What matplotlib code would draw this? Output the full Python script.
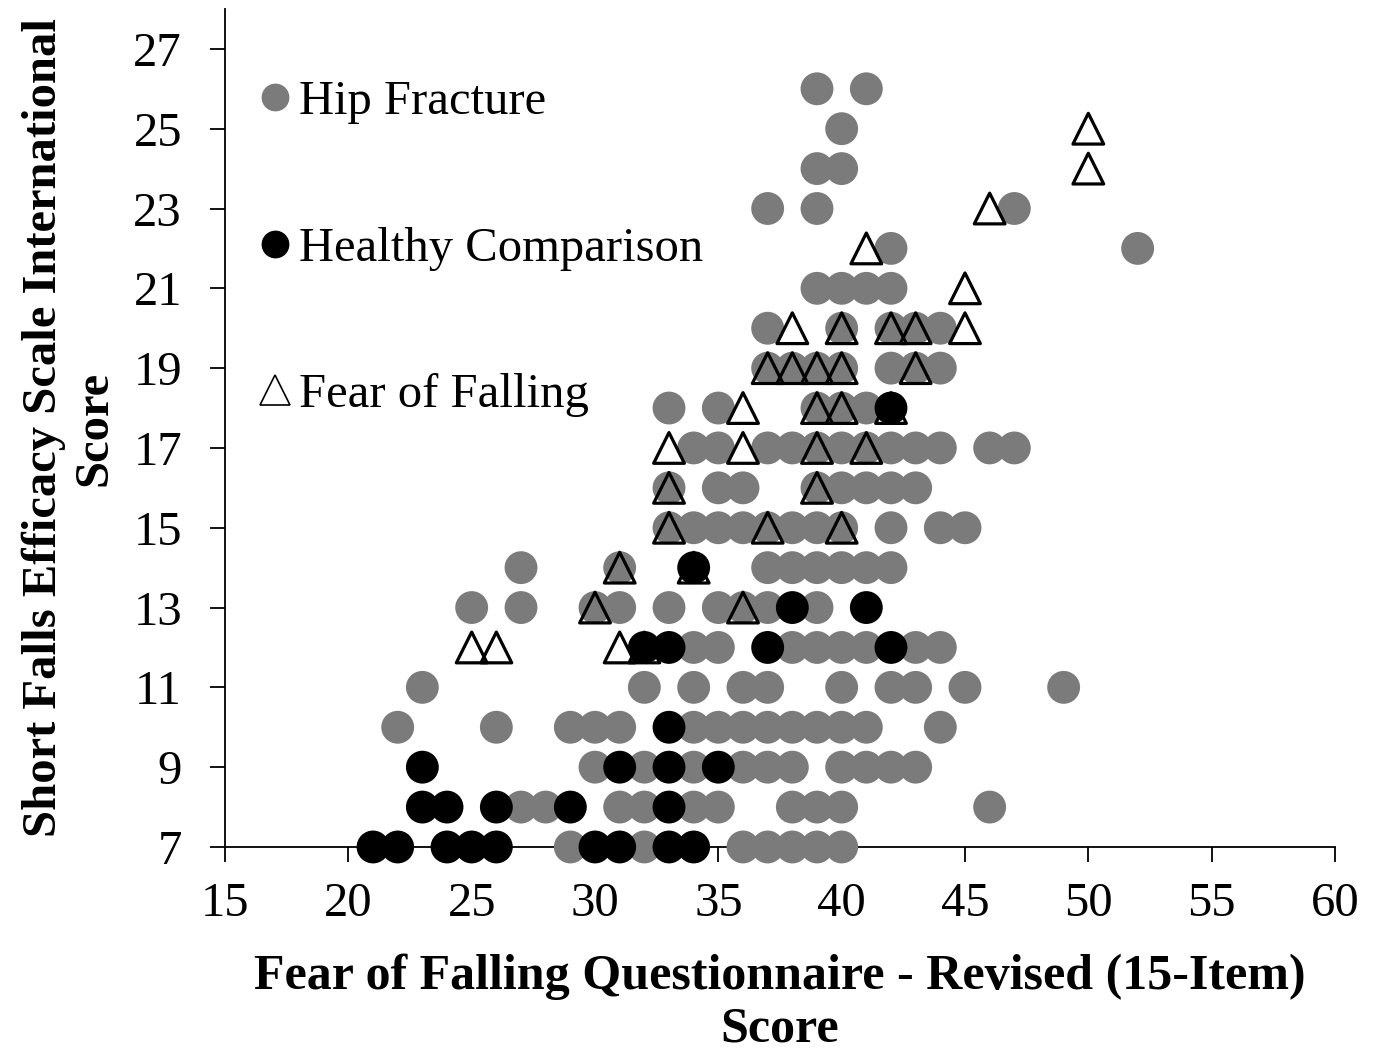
import numpy as np
import matplotlib
matplotlib.use("Agg")
import matplotlib.pyplot as plt
from matplotlib.lines import Line2D

plt.rcParams['font.family'] = ['Liberation Serif', 'DejaVu Serif']

# SFES-I score (row) -> FFQ-R scores
hip_rows = {
    7: [29, 32, 36, 37, 38, 39, 40],
    8: [27, 28, 31, 32, 34, 35, 38, 39, 40, 46],
    9: [30, 32, 34, 36, 37, 38, 40, 41, 42, 43],
    10: [22, 26, 29, 30, 31, 34, 35, 36, 37, 38, 39, 40, 41, 44],
    11: [23, 32, 34, 36, 37, 40, 42, 43, 45, 49],
    12: [34, 35, 38, 39, 40, 41, 43, 44],
    13: [25, 27, 30, 31, 33, 35, 36, 37, 39],
    14: [27, 31, 37, 38, 39, 40, 41, 42],
    15: [33, 34, 35, 36, 37, 38, 39, 40, 42, 44, 45],
    16: [33, 35, 36, 39, 40, 41, 42, 43],
    17: [34, 35, 37, 38, 39, 40, 41, 42, 43, 44, 46, 47],
    18: [33, 35, 39, 40, 41],
    19: [37, 38, 39, 40, 42, 43, 44],
    20: [37, 40, 42, 43, 44],
    21: [39, 40, 41, 42],
    22: [42, 52],
    23: [37, 39, 47],
    24: [39, 40],
    25: [40],
    26: [39, 41],
}
healthy_rows = {
    7: [21, 22, 24, 25, 26, 30, 31, 33, 34],
    8: [23, 24, 26, 29, 33],
    9: [23, 31, 33, 35],
    10: [33],
    12: [32, 33, 37, 42],
    13: [38, 41],
    14: [34],
    18: [42],
}
fof_rows = {
    12: [25, 26, 31, 32],
    13: [30, 36],
    14: [31, 34],
    15: [33, 37, 40],
    16: [33, 39],
    17: [33, 36, 39, 41],
    18: [36, 39, 40, 42],
    19: [37, 38, 39, 40, 43],
    20: [38, 40, 42, 43, 45],
    21: [45],
    22: [41],
    23: [46],
    24: [50],
    25: [50],
}


def flatten(rows):
    xs, ys = [], []
    for yv, xl in rows.items():
        xs += xl
        ys += [yv] * len(xl)
    return np.array(xs), np.array(ys)


hip_x, hip_y = flatten(hip_rows)
hc_x, hc_y = flatten(healthy_rows)
fof_x, fof_y = flatten(fof_rows)

gray = '#7b7b7b'

fig = plt.figure(figsize=(13.73, 10.57), dpi=100)
ax = fig.add_axes([0.1639, 0.1987, 0.8084, 0.7928])

ax.scatter(hip_x, hip_y, s=560, color=gray, edgecolors='none', zorder=3, clip_on=False)
ax.scatter(hc_x, hc_y, s=560, color='black', edgecolors='none', zorder=4, clip_on=False)
ax.scatter(fof_x, fof_y, s=490, marker='^', facecolors='none', edgecolors='black',
           linewidths=2.3, zorder=5, clip_on=False)

ax.set_xlim(15, 60)
ax.set_ylim(7, 28)
ax.set_xticks(np.arange(15, 61, 5))
ax.set_yticks(np.arange(7, 28, 2))
ax.spines['top'].set_visible(False)
ax.spines['right'].set_visible(False)
ax.spines['left'].set_linewidth(1.3)
ax.spines['bottom'].set_linewidth(1.3)
ax.tick_params(axis='both', direction='out', length=11, width=1.3, labelsize=35)
ax.tick_params(axis='y', pad=20)
ax.tick_params(axis='x', pad=14)

ax.set_xlabel('Fear of Falling Questionnaire - Revised (15-Item)\nScore',
              fontsize=36, fontweight='bold', linespacing=1.2, labelpad=20)
ax.set_ylabel('Short Falls Efficacy Scale International\nScore',
              fontsize=35, fontweight='bold', linespacing=1.2, labelpad=12)

handles = [
    Line2D([], [], marker='o', linestyle='none', color=gray, markersize=19),
    Line2D([], [], marker='o', linestyle='none', color='black', markersize=19),
    Line2D([], [], marker='^', linestyle='none', markerfacecolor='none',
           markeredgecolor='black', markeredgewidth=1.2, markersize=21),
]
ax.legend(handles, ['Hip Fracture', 'Healthy Comparison', 'Fear of Falling'],
          loc='upper left', bbox_to_anchor=(0.012, 0.938), frameon=False,
          fontsize=35, handlelength=0.7, handletextpad=0.15, labelspacing=2.1,
          borderaxespad=0)

fig.savefig('out.png', dpi=100)
